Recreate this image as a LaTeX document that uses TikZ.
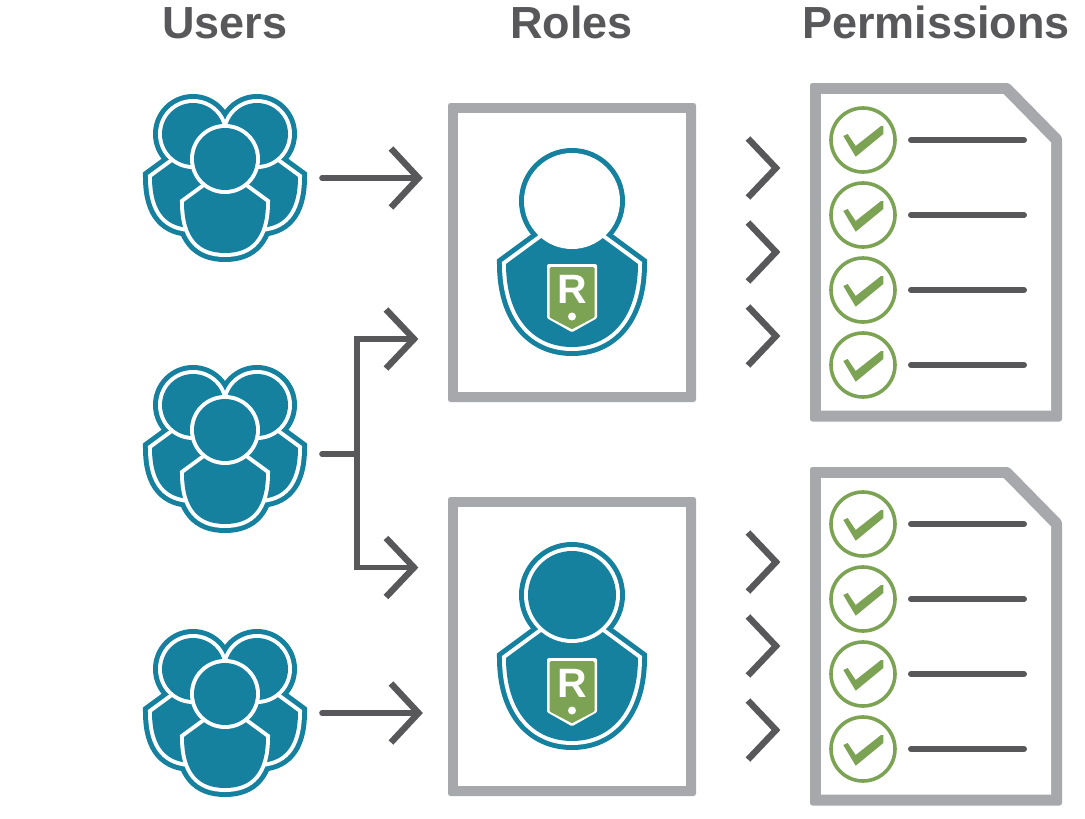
\documentclass[tikz,border=0pt]{standalone}
\usepackage{fontspec}
\setmainfont{Liberation Sans}
\definecolor{teal1}{HTML}{16809F}
\definecolor{green1}{HTML}{7BA353}
\definecolor{gray1}{HTML}{A7A8AC}
\definecolor{dark1}{HTML}{58585A}
\tikzset{
  x=1pt,y=-1pt,
  title/.style={font=\bfseries\fontsize{45}{45}\selectfont,text=dark1,inner sep=0pt,anchor=base},
  frameouter/.style={fill=gray1,rounded corners=2.5pt},
  arrowline/.style={draw=dark1,line width=5.6pt,line join=miter,line cap=round},
  arrowbranch/.style={draw=dark1,line width=5.6pt,line join=miter},
  chev/.style={draw=dark1,line width=6.4pt,line join=miter},
  listline/.style={draw=dark1,line width=6pt,line cap=round},
  checkring/.style={draw=green1,line width=3.6pt,fill=white},
  outerteal/.style={draw=teal1,fill=teal1,line width=18pt,miter limit=10},
  whitering/.style={draw=white,fill=white,line width=8pt,miter limit=10},
}
\newcommand{\smallbody}[2]{(#1-41,#2+43) -- (#1-20,#2+27.6) -- (#1+20,#2+27.6) -- (#1+41,#2+43) .. controls (#1+41,#2+79) and (#1+26,#2+94) .. (#1,#2+94) .. controls (#1-26,#2+94) and (#1-41,#2+79) .. cycle}
\newcommand{\layeredbody}[2]{%
  \path[whitering] \smallbody{#1}{#2};
  \fill[teal1] \smallbody{#1}{#2};
}
\newcommand{\layeredhead}[2]{%
  \path[whitering] (#1,#2) circle[radius=31];
  \fill[teal1] (#1,#2) circle[radius=31];
}
\newcommand{\group}[2]{%
  \foreach \dx/\dy in {-32/-25,32/-25,0/0}{
    \path[outerteal] \smallbody{#1+\dx}{#2+\dy};
    \path[outerteal] (#1+\dx,#2+\dy) circle[radius=31];
  }
  \layeredbody{#1-32}{#2-25}
  \layeredbody{#1+32}{#2-25}
  \layeredhead{#1-32}{#2-25}
  \layeredhead{#1+32}{#2-25}
  \layeredbody{#1}{#2}
  \layeredhead{#1}{#2}
}
\newcommand{\bigbody}[2]{(#1-66,#2+63) -- (#1-29,#2+35.8) -- (#1+29,#2+35.8) -- (#1+66,#2+63) .. controls (#1+66,#2+116) and (#1+39,#2+146) .. (#1,#2+146) .. controls (#1-39,#2+146) and (#1-66,#2+116) .. cycle}
\newcommand{\rolefig}[3]{%
  \path[outerteal] \bigbody{#1}{#2};
  \fill[teal1] (#1,#2) circle[radius=53];
  \path[whitering] \bigbody{#1}{#2};
  \fill[teal1] \bigbody{#1}{#2};
  \fill[white] (#1,#2) circle[radius=48];
  \fill[#3] (#1,#2) circle[radius=44];
  % tag
  \path[fill=white,draw=white,line width=4pt,line join=round]
    (#1-23,#2+65) -- (#1+23,#2+65) -- (#1+23,#2+116) -- (#1,#2+129) -- (#1-23,#2+116) -- cycle;
  \path[fill=green1,draw=green1,line width=3pt,line join=round]
    (#1-21,#2+67.5) -- (#1+21,#2+67.5) -- (#1+21,#2+115.5) -- (#1,#2+126.5) -- (#1-21,#2+115.5) -- cycle;
  \node[text=white,inner sep=0pt,anchor=base,font=\bfseries\fontsize{41}{41}\selectfont] at (#1,#2+102) {R};
  \fill[white] (#1,#2+115.5) circle[radius=4];
}
\newcommand{\rolebox}[1]{%
  \fill[frameouter] (448,#1) rectangle (696,#1+299);
  \fill[white] (458,#1+10) rectangle (686,#1+289);
}
\newcommand{\docfig}[1]{%
  \fill[frameouter] (810,#1+83) -- (1009,#1+83) -- (1062,#1+137) -- (1062,#1+421.5) -- (810,#1+421.5) -- cycle;
  \fill[white] (821,#1+94) -- (1003.5,#1+94) -- (1051,#1+142.5) -- (1051,#1+410.5) -- (821,#1+410.5) -- cycle;
  \foreach \yy in {140,215,290,365}{
    \draw[checkring] (863,#1+\yy) circle[radius=32];
    \fill[green1] (863-19.7,#1+\yy-4) -- (863-15.3,#1+\yy-6) -- (863-7.3,#1+\yy+6) -- (863+18,#1+\yy-14) -- (863+20.3,#1+\yy-14) -- (863+20.3,#1+\yy-6) -- (863-7.3,#1+\yy+16.7) -- cycle;
    \draw[listline] (911,#1+\yy) -- (1024,#1+\yy);
  }
}
\begin{document}
\begin{tikzpicture}
\useasboundingbox[fill=white] (0,0) rectangle (1085,819);
\node[title] (tu) at (225,38) {Users};
\node[title] (tr) at (571.5,38) {Roles};
\node[title] (tp) at (936,38) {Permissions};
\group{225}{159}
\group{225}{430}
\group{225}{694}
\rolebox{103}
\rolebox{497}
\rolefig{572}{201}{white}
\rolefig{572}{595}{teal1}
\docfig{0}
\docfig{384}
\coordinate (g1) at (322,178); \coordinate (r1) at (418,178);
\draw[arrowline] (g1) -- (r1);
\draw[chev] (391,148.5) -- (418.5,178) -- (391,207.5);
\coordinate (g3) at (322,713); \coordinate (r3) at (418,713);
\draw[arrowline] (g3) -- (r3);
\draw[chev] (391,683.5) -- (418.5,713) -- (391,742.5);
\coordinate (g2) at (322,454); \coordinate (j) at (357,454);
\draw[arrowline] (g2) -- (j);
\draw[arrowbranch] (412,339) -- (357,339) -- (357,567.5) -- (412,567.5);
\draw[chev] (386,309.5) -- (414,339) -- (386,368.5);
\draw[chev] (386,538) -- (414,567.5) -- (386,597);
\foreach \yy in {168,252,336,562,646,730}{
  \draw[chev] (748,\yy-29.5) -- (776,\yy) -- (748,\yy+29.5);
}
\end{tikzpicture}
\end{document}
